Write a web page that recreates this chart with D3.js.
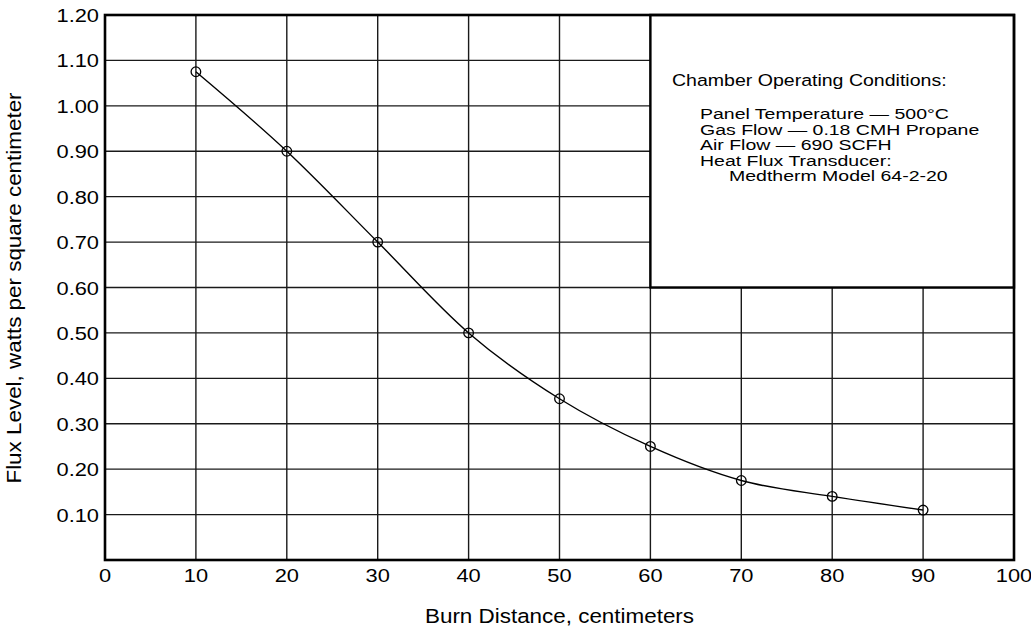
<!DOCTYPE html>
<html>
<head>
<meta charset="utf-8">
<script src="https://cdn.jsdelivr.net/npm/d3@7"></script>
<style>
  html, body { margin: 0; padding: 0; background: #fff; }
  svg { display: block; }
  text { font-family: "Liberation Sans", Arial, Helvetica, sans-serif; fill: #000; }
</style>
</head>
<body>
<svg id="chart" width="1031" height="629"></svg>
<script>
// ---- data ----
const burnDistance = [10, 20, 30, 40, 50, 60, 70, 80, 90];
const fluxLevel = [1.075, 0.90, 0.70, 0.50, 0.355, 0.25, 0.175, 0.14, 0.11];
const xTicks = [0, 10, 20, 30, 40, 50, 60, 70, 80, 90, 100];
const yTicks = [0.10, 0.20, 0.30, 0.40, 0.50, 0.60, 0.70, 0.80, 0.90, 1.00, 1.10, 1.20];
const xTitle = "Burn Distance, centimeters";
const yTitle = "Flux Level, watts per square centimeter";
const legendTitle = "Chamber Operating Conditions:";
const legendLines = [
  "Panel Temperature \u2014 500\u00B0C",
  "Gas Flow \u2014 0.18 CMH Propane",
  "Air Flow \u2014 690 SCFH",
  "Heat Flux Transducer:"
];
const legendSubLine = "Medtherm Model 64-2-20";
const legendBox = { x0: 60, x1: 100, y0: 0.60, y1: 1.20 };

// ---- layout ----
const svg = d3.select("#chart");
const x = d3.scaleLinear().domain([0, 100]).range([105, 1014]);
const y = d3.scaleLinear().domain([0, 1.2]).range([560, 15]);
const SX = 1.15; // horizontal stretch of the original lettering

function stretchedText(g, tx, ty, str, size, anchor, rot, sx) {
  const s = sx || SX;
  return g.append("g")
    .attr("transform", `translate(${tx},${ty})` + (rot ? ` rotate(${rot})` : "") + ` scale(${s},1)`)
    .append("text")
    .attr("font-size", size)
    .attr("text-anchor", anchor || "start")
    .text(str);
}

// grid
const grid = svg.append("g");
grid.selectAll("line.v").data(xTicks.filter(d => d > 0 && d < 100)).join("line")
  .attr("x1", d => x(d)).attr("x2", d => x(d))
  .attr("y1", y(0)).attr("y2", y(1.2))
  .attr("stroke", "#1a1a1a").attr("stroke-width", 1.4);
grid.selectAll("line.h").data(yTicks.filter(d => d < 1.2)).join("line")
  .attr("x1", x(0)).attr("x2", x(100))
  .attr("y1", d => y(d)).attr("y2", d => y(d))
  .attr("stroke", "#1a1a1a").attr("stroke-width", 1.4);

// legend box (covers grid)
svg.append("rect")
  .attr("x", x(legendBox.x0)).attr("y", y(legendBox.y1))
  .attr("width", x(legendBox.x1) - x(legendBox.x0))
  .attr("height", y(legendBox.y0) - y(legendBox.y1))
  .attr("fill", "#fff").attr("stroke", "#000").attr("stroke-width", 2.4);

// plot border
svg.append("rect")
  .attr("x", x(0)).attr("y", y(1.2))
  .attr("width", x(100) - x(0)).attr("height", y(0) - y(1.2))
  .attr("fill", "none").attr("stroke", "#000").attr("stroke-width", 2.6);

// curve
const pts = burnDistance.map((d, i) => [d, fluxLevel[i]]);
svg.append("path")
  .datum(pts)
  .attr("fill", "none").attr("stroke", "#000").attr("stroke-width", 1.4)
  .attr("d", d3.line().x(d => x(d[0])).y(d => y(d[1])).curve(d3.curveMonotoneX));
svg.selectAll("circle.pt").data(pts).join("circle")
  .attr("cx", d => x(d[0])).attr("cy", d => y(d[1])).attr("r", 4.8)
  .attr("fill", "none").attr("stroke", "#000").attr("stroke-width", 1.3);

// tick labels
const lab = svg.append("g");
yTicks.forEach(v => {
  stretchedText(lab, 99, y(v) + 7, d3.format(".2f")(v), 19, "end");
});
xTicks.forEach(v => {
  stretchedText(lab, x(v), 582, String(v), 19, "middle");
});

// axis titles
stretchedText(svg, (x(0) + x(100)) / 2, 623, xTitle, 19.5, "middle");
stretchedText(svg, 21, 288, yTitle, 19.5, "middle", -90);

// legend text
stretchedText(svg, 672, 86, legendTitle, 17, "start");
const LS = 1.3, LF = 15, LH = 15.5, L0 = 119;
legendLines.forEach((s, i) => {
  stretchedText(svg, 700, L0 + i * LH, s, LF, "start", 0, LS);
});
stretchedText(svg, 729, L0 + 4 * LH, legendSubLine, LF, "start", 0, LS);
</script>
</body>
</html>
